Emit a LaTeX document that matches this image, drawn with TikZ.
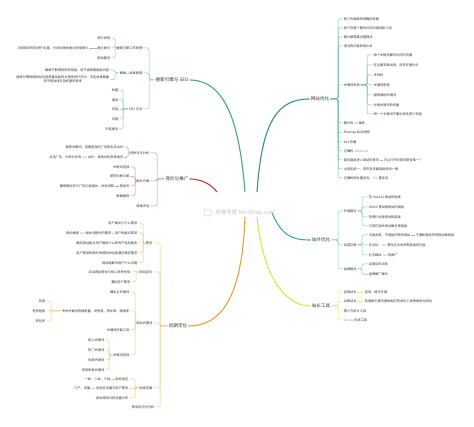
\documentclass[tikz,border=0pt]{standalone}
\usepackage{fontspec}
\setmainfont{Noto Sans CJK SC}
\usetikzlibrary{calc}
\definecolor{txt}{HTML}{333333}
\definecolor{codec}{HTML}{9A9A9A}
\definecolor{cA}{HTML}{4CA68C}\definecolor{cAl}{HTML}{8CC9B6}
\definecolor{cB}{HTML}{3A8F8F}\definecolor{cBl}{HTML}{80BFBF}
\definecolor{cC}{HTML}{B8433D}\definecolor{cCl}{HTML}{D4948F}
\definecolor{cD}{HTML}{45AAA6}\definecolor{cDl}{HTML}{85C9C6}
\definecolor{cE}{HTML}{E9A23B}\definecolor{cEl}{HTML}{F2C67A}
\definecolor{cF}{HTML}{E6E04A}\definecolor{cFl}{HTML}{EDE88A}
\newcommand\codew[1]{\textcolor{codec}{#1}}
\newcommand\brL[4]{\path (#2,0) coordinate (tmpbx);\foreach \chn in {#3}{\draw[br,#4] (#1.west) -- (#1.west -| tmpbx) |- (\chn.east);}}
\newcommand\brR[4]{\path (#2,0) coordinate (tmpbx);\foreach \chn in {#3}{\draw[br,#4] (#1.east) -- (#1.east -| tmpbx) |- (\chn.west);}}
\tikzset{
 lf/.style={font=\fontsize{3.2}{3.9}\selectfont, text=txt, inner sep=0.6pt},
 lfe/.style={lf, anchor=east},
 lfw/.style={lf, anchor=west},
 mn/.style={font=\fontsize{4.6}{5.5}\selectfont, text=txt, inner sep=1pt},
 br/.style={line width=0.5pt, rounded corners=1.5pt},
 cv/.style={line width=1.1pt},
}
\begin{document}
\begin{tikzpicture}[x=1pt,y=-1pt]
\fill[white] (0,0) rectangle (474,427);
\useasboundingbox (0,0) rectangle (474,427);
% centre
\node[font=\fontsize{5.5}{6}\selectfont, text=gray!45, inner sep=0pt] (ctr) at (245,213) {思维导图 MindMap.com};
\draw[gray!40, line width=0.5pt, rounded corners=0.8pt] (204,210) rectangle (211,216);
\draw[gray!15, line width=0.4pt, rounded corners=1pt] (145,60) rectangle (187,72);
% main nodes
\node[mn] (m1) at (172,80) {搜索引擎与 SEO};
\node[mn] (m2) at (320,99) {网站优化};
\node[mn] (m3) at (177,179) {竞价与推广};
\node[mn] (m4) at (321,240) {站外优化};
\node[mn] (m5) at (178,326) {初期定位};
\node[mn] (m6) at (321,306) {站长工具};
% main curves
\draw[cv,cA] ($(ctr.center)+(0,-21)$) .. controls (240,130) and (228,80) .. (m1.east);
\draw[cv,cB] ($(ctr.center)+(12,-21)$) .. controls (262,120) and (278,99) .. (m2.west);
\draw[cv,cC] ($(ctr.center)+(-28,-21)$) .. controls (210,183) and (200,179) .. (m3.east);
\draw[cv,cD] ($(ctr.center)+(27,0)$) .. controls (282,236) and (292,240) .. (m4.west);
\draw[cv,cE] ($(ctr.center)+(0,4)$) .. controls (242,300) and (220,326) .. (m5.east);
\draw[cv,cF] ($(ctr.center)+(12,4)$) .. controls (262,270) and (282,306) .. (m6.west);

% ===== branch 1
\node[lfe] (a1) at (143,48) {搜索引擎工作原理};
\node[lfe] (a2) at (143,73) {收录原理};
\node[lfe] (a3) at (143,109) {SEO 方法};
\brL{m1}{149}{a1,a2,a3}{cAl}
\node[lfe] (a11) at (111,38) {爬行抓取};
\node[lfe] (a12) at (111,48) {建立索引};
\node[lfe] (a13) at (111,58) {提供服务};
\brL{a1}{115}{a11,a12,a13}{cAl}
\node[lfe] (a121) at (89,48) {对抓取的网页进行去重、分词处理并建立倒排索引};
\draw[br,cAl] (a12.west) -- (a121.east);
\node[lfe] (a21) at (127,73) {蜘蛛};
\draw[br,cAl] (a2.west) -- (a21.east);
\node[lfe] (a211) at (110,70) {蜘蛛不断爬取网页链接，用于更新数据库内容};
\node[lfe, align=center] (a212) at (110,79.5) {搜索引擎根据网站内容质量及结构合理性进行评分，决定收录数量\\用于网站排名及权重的参考};
\brL{a21}{115}{a211,a212}{cAl}
\node[lfe] (a31) at (119,90) {标题};
\node[lfe] (a32) at (119,100) {描述};
\node[lfe] (a33) at (119,109.5) {内容};
\node[lfe] (a34) at (119,119) {内链};
\node[lfe] (a35) at (119,129) {外链建设};
\brL{a3}{123}{a31,a32,a33,a34,a35}{cAl}

% ===== branch 2
\node[lfw] (b1) at (343,19) {每个页面都有明确的标题};
\node[lfw] (b2) at (343,28) {每个页面下都有对应的描述和介绍};
\node[lfw] (b3) at (343,37) {图片都需要设置描述};
\node[lfw] (b4) at (343,46) {适当的内链和锚文本};
\node[lfw] (b5) at (343,85) {关键词布局};
\node[lfw] (b6) at (343,123) {图片的 \codew{alt} 属性};
\node[lfw] (b7) at (343,133) {Sitemap 站点地图};
\node[lfw] (b8) at (343,142) {404 页面};
\node[lfw] (b9) at (343,151) {正确的 \codew{robots.txt}};
\node[lfw] (b10) at (343,160) {能否直接进入网站的首页};
\node[lfw] (b11) at (343,169) {主域名统一，首页及页面链接保持一致};
\node[lfw] (b12) at (343,178) {正确的网址重定向，\codew{301} 重定向};
\brR{m2}{338}{b1,b2,b3,b4,b5,b6,b7,b8,b9,b10,b11,b12}{cBl}
\node[lfw] (b51) at (373,55) {每个关键词都有对应的页面};
\node[lfw] (b52) at (373,65) {在主要页面出现，而非在图片中};
\node[lfw] (b53) at (373,75) {多样性};
\node[lfw] (b54) at (373,85) {关键词密度};
\node[lfw] (b55) at (373,95) {避免堆砌关键词};
\node[lfw] (b56) at (373,105) {长尾关键词的挖掘};
\node[lfw] (b57) at (373,114) {同一个关键词不要出现在两个页面};
\brR{b5}{367}{b51,b52,b53,b54,b55,b56,b57}{cBl}
\node[lfw] (b101) at (383,160) {可以打开的首页是否唯一？};
\draw[br,cBl] (b10.east) -- (b101.west);

% ===== branch 3
\node[lfe] (c1) at (150,153) {竞争对手分析};
\node[lfe] (c2) at (150,181) {竞价方案};
\node[lfe] (c3) at (150,206) {效果评估};
\brL{m3}{157}{c1,c2,c3}{cCl}
\node[lfe] (c11) at (124,147) {搜索关键词，查看竞品的广告排名及出价};
\node[lfe] (c12) at (124,157.5) {点击广告，分析对手的 \codew{cpc} 出价、投放时段及落地页};
\brL{c1}{128}{c11,c12}{cCl}
\node[lfe] (c21) at (130,167) {关键词选择};
\node[lfe] (c22) at (130,176.5) {撰写创意文案};
\node[lfe] (c23) at (130,186) {落地页};
\node[lfe] (c24) at (130,196) {数据跟踪};
\brL{c2}{135}{c21,c22,c23,c24}{cCl}
\node[lfe] (c231) at (115,186) {确保落地页与广告内容相关，体验流畅};
\draw[br,cCl] (c23.west) -- (c231.east);

% ===== branch 4
\node[lfw] (d1) at (343,211) {外链建设};
\node[lfw] (d2) at (343,245) {友链交换};
\node[lfw] (d3) at (343,269) {品牌建设};
\brR{m4}{338}{d1,d2,d3}{cDl}
\node[lfw] (d11) at (368,197) {在 Hao123 网站的链接};
\node[lfw] (d12) at (368,207) {DMOZ 等目录网站的链接};
\node[lfw] (d13) at (368,217) {获得行业类网站的链接};
\node[lfw] (d14) at (368,226) {与其它相关网站做友情链接};
\brR{d1}{362}{d11,d12,d13,d14}{cDl}
\node[lfw] (d21) at (368,235) {交换友链，不链接作弊的网站};
\node[lfw] (d22) at (368,245) {在论坛、\codew{sns} 等社区中发布带链接的内容};
\node[lfw] (d23) at (368,255) {社交媒体 \codew{seo} 的推广};
\brR{d2}{362}{d21,d22,d23}{cDl}
\node[lfw] (d211) at (415,235) {不要和被惩罚的网站做链接};
\draw[br,cDl] (d21.east) -- (d211.west);
\node[lfw] (d31) at (368,264) {百度百科词条};
\node[lfw] (d32) at (368,274.5) {品牌推广曝光};
\brR{d3}{362}{d31,d32}{cDl}

% ===== branch 5
\node[lfe] (e1) at (153,243) {需求};
\node[lfe] (e2) at (153,272) {网站定位};
\node[lfe] (e3) at (153,323) {网站关键词};
\node[lfe] (e4) at (153,388) {地域范围};
\node[lfe] (e5) at (155,407) {需求及方向分析};
\brL{m5}{160}{e1,e2,e3,e4,e5}{cEl}
\node[lfe] (e11) at (138,223) {用户最关心什么需求};
\node[lfe] (e12) at (138,233) {用户的痛点需求};
\node[lfe] (e13) at (138,243) {确定网站能为用户提供什么样的产品及服务};
\node[lfe] (e14) at (138,253) {用户需求的细分领域及网站能满足哪些需求};
\node[lfe] (e15) at (138,263) {网站能解决用户什么问题};
\brL{e1}{143}{e11,e12,e13,e14,e15}{cEl}
\node[lfe] (e121) at (112,233) {例如搜索 \codew{seo} 相关问题时的需求};
\draw[br,cEl] (e12.west) -- (e121.east);
\node[lfe] (e21) at (131,272) {突出网站特色与核心竞争优势};
\node[lfe] (e22) at (131,282) {满足用户需求};
\brL{e2}{136}{e21,e22}{cEl}
\node[lfe] (e31) at (130,292) {确定主关键词};
\node[lfe] (e32) at (130,311) {考虑关键词的搜索量、竞争度、转化率、精准度};
\node[lfe] (e33) at (130,330) {关键词挖掘工具};
\node[lfe] (e34) at (130,355) {关键词选择};
\brL{e3}{135}{e31,e32,e33,e34}{cEl}
\node[lfe] (e321) at (46,301) {热度};
\node[lfe] (e322) at (46,311) {竞争程度};
\node[lfe] (e323) at (46,321) {转化率};
\brL{e32}{51}{e321,e322,e323}{cEl}
\node[lfe] (e341) at (105,340) {核心关键词};
\node[lfe] (e342) at (105,350) {热门关键词};
\node[lfe] (e343) at (105,360) {长尾关键词};
\node[lfe] (e344) at (105,370) {低竞争度关键词};
\brL{e34}{109}{e341,e342,e343,e344}{cEl}
\node[lfe] (e41) at (129,379) {目标地区};
\node[lfe] (e42) at (129,388.5) {各地区流量与用户需求};
\node[lfe] (e43) at (129,398) {按地域划分的流量分布};
\brL{e4}{135}{e41,e42,e43}{cEl}
\node[lfe] (e411) at (111,379) {一线、二线、三线};
\draw[br,cEl] (e41.west) -- (e411.east);
\node[lfe] (e421) at (91,388.5) {门户、流量};
\draw[br,cEl] (e42.west) -- (e421.east);

% ===== branch 6
\node[lfw] (f1) at (343,292) {百度站长};
\node[lfw] (f2) at (343,301.5) {谷歌站长};
\node[lfw] (f3) at (343,311) {第三方统计工具};
\node[lfw] (f4) at (343,320) {\codew{chinaz} 在线工具};
\brR{m6}{338}{f1,f2,f3,f4}{cFl}
\node[lfw] (f11) at (364,292) {查询、提交外链};
\draw[br,cFl] (f1.east) -- (f11.west);
\node[lfw] (f21) at (364,301.5) {各搜索引擎均提供相应的站长工具帮助优化网站};
\draw[br,cFl] (f2.east) -- (f21.west);
\end{tikzpicture}
\end{document}
